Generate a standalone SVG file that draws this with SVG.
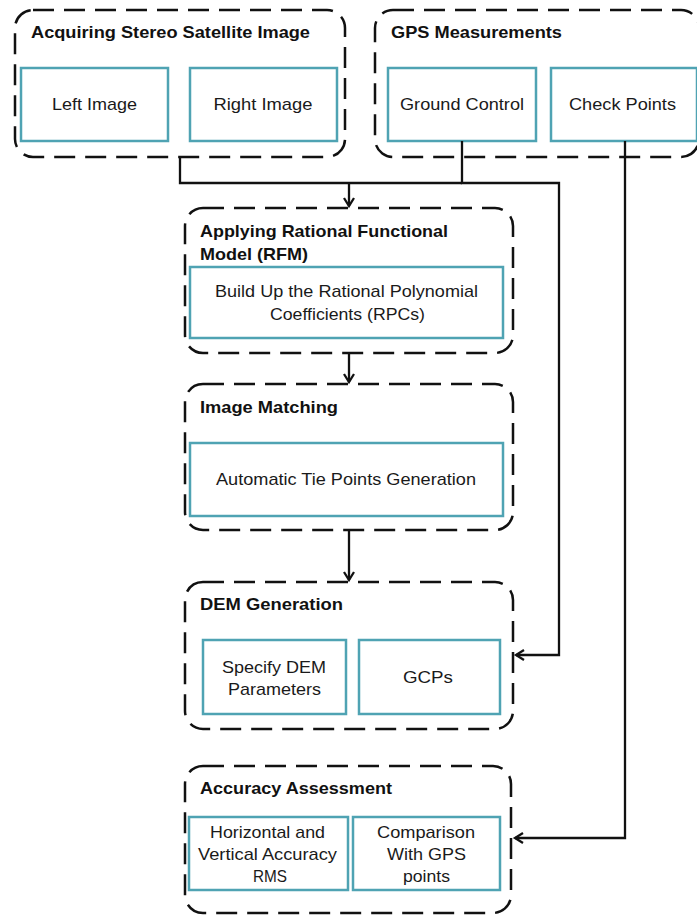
<svg xmlns="http://www.w3.org/2000/svg" width="697" height="915" viewBox="0 0 697 915">
<defs>
<style>
.grp{fill:none;stroke:#111;stroke-width:2.5;stroke-dasharray:21 10}
.box{fill:#fff;stroke:#4fa3b3;stroke-width:2.5}
.t{font-family:"Liberation Sans",Arial,sans-serif;font-size:17px;fill:#1a1a1a}
.h{font-weight:bold;fill:#111}
.c{text-anchor:middle}
.ln{fill:none;stroke:#111;stroke-width:2.3}
</style>
<marker id="ar" markerUnits="userSpaceOnUse" markerWidth="12" markerHeight="12" refX="9" refY="6" orient="auto">
<path d="M1,1 L9,6 L1,11" fill="none" stroke="#111" stroke-width="2.3"/>
</marker>
</defs>
<rect width="697" height="915" fill="#fff"/>
<g id="acquiring">
<rect class="grp" x="15" y="10" width="330" height="147" rx="18"/>
<text class="t h" x="31" y="38" textLength="279" lengthAdjust="spacingAndGlyphs">Acquiring Stereo Satellite Image</text>
<g id="left-image"><rect class="box" x="21" y="68" width="147" height="73"/>
<text class="t c" x="94.5" y="110" textLength="85" lengthAdjust="spacingAndGlyphs">Left Image</text></g>
<g id="right-image"><rect class="box" x="190" y="68" width="147" height="73"/>
<text class="t c" x="263" y="110" textLength="99" lengthAdjust="spacingAndGlyphs">Right Image</text></g>
</g>
<g id="gps">
<rect class="grp" x="375" y="10" width="324" height="147" rx="18"/>
<text class="t h" x="391" y="38" textLength="171" lengthAdjust="spacingAndGlyphs">GPS Measurements</text>
<g id="ground-control"><rect class="box" x="388" y="68" width="148" height="73"/>
<text class="t c" x="462" y="110" textLength="124" lengthAdjust="spacingAndGlyphs">Ground Control</text></g>
<g id="check-points"><rect class="box" x="551" y="68" width="146" height="73"/>
<text class="t c" x="622.5" y="110" textLength="107" lengthAdjust="spacingAndGlyphs">Check Points</text></g>
</g>
<g id="rfm">
<rect class="grp" x="185" y="208" width="328" height="145" rx="18"/>
<text class="t h" x="200" y="237" textLength="248" lengthAdjust="spacingAndGlyphs">Applying Rational Functional</text>
<text class="t h" x="200" y="260" textLength="108" lengthAdjust="spacingAndGlyphs">Model (RFM)</text>
<g id="rpcs"><rect class="box" x="190" y="267" width="313" height="71"/>
<text class="t c" x="346.5" y="297" textLength="263" lengthAdjust="spacingAndGlyphs">Build Up the Rational Polynomial</text>
<text class="t c" x="347.5" y="320" textLength="155" lengthAdjust="spacingAndGlyphs">Coefficients (RPCs)</text></g>
</g>
<g id="image-matching">
<rect class="grp" x="185" y="384" width="328" height="146" rx="18"/>
<text class="t h" x="200" y="413" textLength="138" lengthAdjust="spacingAndGlyphs">Image Matching</text>
<g id="tie-points"><rect class="box" x="190" y="443" width="313" height="73"/>
<text class="t c" x="346" y="485" textLength="260" lengthAdjust="spacingAndGlyphs">Automatic Tie Points Generation</text></g>
</g>
<g id="dem">
<rect class="grp" x="185" y="582" width="328" height="147" rx="18"/>
<text class="t h" x="200" y="610" textLength="143" lengthAdjust="spacingAndGlyphs">DEM Generation</text>
<g id="dem-params"><rect class="box" x="203" y="640" width="143" height="74"/>
<text class="t c" x="274" y="673" textLength="104" lengthAdjust="spacingAndGlyphs">Specify DEM</text>
<text class="t c" x="274.5" y="695" textLength="93" lengthAdjust="spacingAndGlyphs">Parameters</text></g>
<g id="gcps"><rect class="box" x="359" y="640" width="141" height="74"/>
<text class="t c" x="428" y="683" textLength="50" lengthAdjust="spacingAndGlyphs">GCPs</text></g>
</g>
<g id="accuracy">
<rect class="grp" x="185" y="766" width="326" height="147" rx="18"/>
<text class="t h" x="200" y="794" textLength="192" lengthAdjust="spacingAndGlyphs">Accuracy Assessment</text>
<g id="rms"><rect class="box" x="189" y="817" width="159" height="73"/>
<text class="t c" x="267.5" y="838" textLength="115" lengthAdjust="spacingAndGlyphs">Horizontal and</text>
<text class="t c" x="267.5" y="860" textLength="139" lengthAdjust="spacingAndGlyphs">Vertical Accuracy</text>
<text class="t c" x="270" y="882" textLength="34" lengthAdjust="spacingAndGlyphs">RMS</text></g>
<g id="comparison"><rect class="box" x="353" y="817" width="147" height="73"/>
<text class="t c" x="426" y="838" textLength="98" lengthAdjust="spacingAndGlyphs">Comparison</text>
<text class="t c" x="426.5" y="860" textLength="79" lengthAdjust="spacingAndGlyphs">With GPS</text>
<text class="t c" x="426.5" y="882" textLength="47" lengthAdjust="spacingAndGlyphs">points</text></g>
</g>
<g id="connectors">
<path class="ln" d="M180 157 V183 H462"/>
<path class="ln" d="M349 183 V206" marker-end="url(#ar)"/>
<path class="ln" d="M462 141 V183 H559 V655 H516" marker-end="url(#ar)"/>
<path class="ln" d="M625 141 V838 H515" marker-end="url(#ar)"/>
<path class="ln" d="M349 353 V382" marker-end="url(#ar)"/>
<path class="ln" d="M349 530 V580" marker-end="url(#ar)"/>
</g>
</svg>
